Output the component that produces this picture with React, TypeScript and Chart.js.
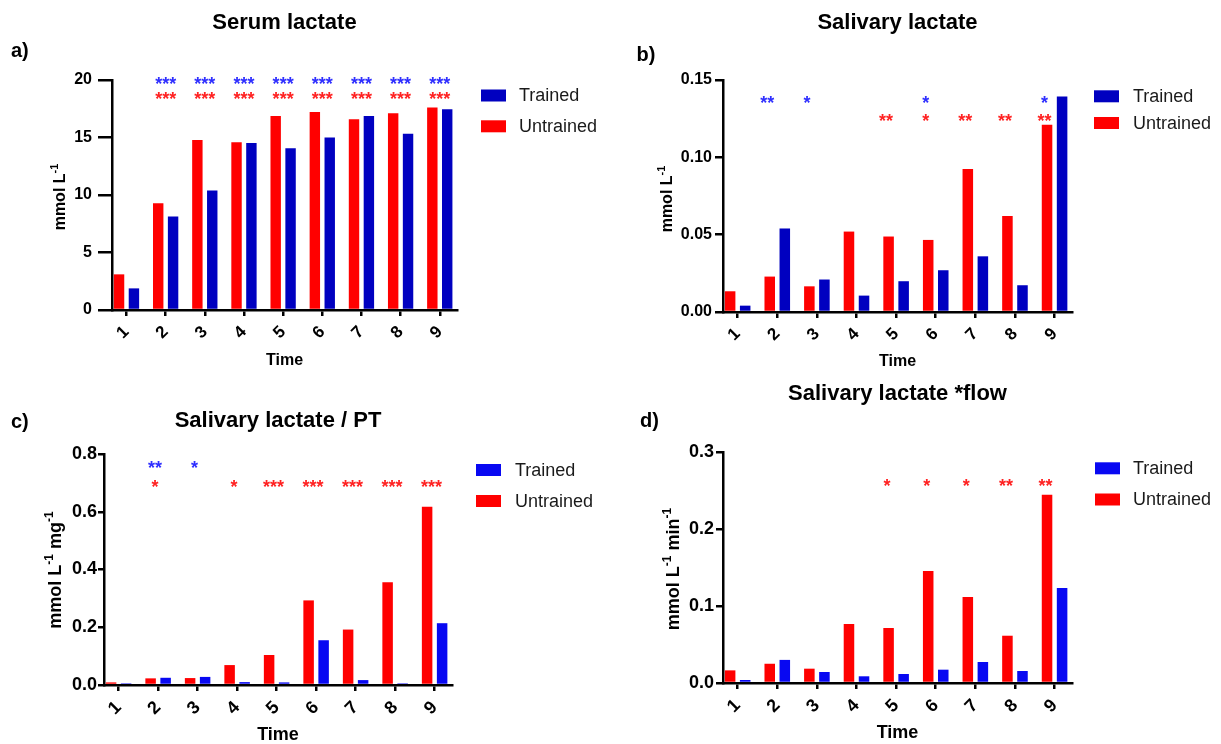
import React, { useEffect, useRef } from 'react';
import { Chart, registerables } from 'chart.js';

Chart.register(...registerables);

const FONT = '"Liberation Sans", Arial, Helvetica, sans-serif';

// ---------- data ----------
const timePoints = ['1', '2', '3', '4', '5', '6', '7', '8', '9'];
const seriesLabels = ['Untrained', 'Trained'];

const serumUntrained = [3.1, 9.28, 14.78, 14.58, 16.87, 17.22, 16.58, 17.1, 17.6];
const serumTrained = [1.88, 8.12, 10.4, 14.52, 14.06, 15.01, 16.87, 15.33, 17.45];
const serumSigUntrained = ['', '***', '***', '***', '***', '***', '***', '***', '***'];
const serumSigTrained = ['', '***', '***', '***', '***', '***', '***', '***', '***'];

const salivaUntrained = [0.0134, 0.0229, 0.0166, 0.052, 0.0488, 0.0466, 0.0924, 0.062, 0.121];
const salivaTrained = [0.0041, 0.054, 0.021, 0.0106, 0.0199, 0.027, 0.036, 0.0173, 0.1394];
const salivaSigUntrained = ['', '', '', '', '**', '*', '**', '**', '**'];
const salivaSigTrained = ['', '**', '*', '', '', '*', '', '', '*'];

const ptUntrained = [0.009, 0.023, 0.024, 0.069, 0.104, 0.293, 0.192, 0.356, 0.617];
const ptTrained = [0.006, 0.025, 0.028, 0.01, 0.009, 0.155, 0.017, 0.006, 0.214];
const ptSigUntrained = ['', '*', '', '*', '***', '***', '***', '***', '***'];
const ptSigTrained = ['', '**', '*', '', '', '', '', '', ''];

const flowUntrained = [0.0164, 0.025, 0.0186, 0.0766, 0.0714, 0.1455, 0.1117, 0.0614, 0.2445];
const flowTrained = [0.0039, 0.03, 0.0143, 0.0087, 0.0117, 0.0173, 0.0273, 0.0156, 0.1234];
const flowSigUntrained = ['', '', '', '', '*', '*', '*', '**', '**'];
const flowSigTrained = ['', '', '', '', '', '', '', '', ''];

type Seg = { t: string; sup?: boolean };

interface PanelDef {
  left: number; top: number; width: number; height: number;
  area: { l: number; t: number; r: number; b: number };
  title: string; titleX: number; titleY: number;
  label: string; labelX: number; labelY: number;
  yTitle: Seg[]; yTitleX: number; yTitleY: number;
  xTitleY: number;
  yMax: number; yStep: number; yDecimals: number;
  tickLen: number; tickPad: number; tickFont: number; xTickFont: number; xTickPad: number; axisFont: number;
  untrained: number[]; trained: number[];
  sigUntrained: string[]; sigTrained: string[];
  sigUntrainedLevel: number; sigTrainedLevel: number; sigDx: number;
  red: string; blue: string;
  legendX: number; legendY1: number; legendY2: number; legendTextX: number;
}

const RED = '#ff0000';
const STAR_RED = '#ff2222';
const STAR_BLUE = '#2f2fff';

const panels: PanelDef[] = [
  {
    left: 0, top: 0, width: 610, height: 372,
    area: { l: 112, t: 80, r: 457, b: 310 },
    title: 'Serum lactate', titleX: 284.5, titleY: 29,
    label: 'a)', labelX: 11, labelY: 57,
    yTitle: [{ t: 'mmol L' }, { t: '-1', sup: true }], yTitleX: 65, yTitleY: 197,
    xTitleY: 365,
    yMax: 20, yStep: 5, yDecimals: 0,
    tickLen: 14, tickPad: 6, tickFont: 16, xTickFont: 17, xTickPad: 6, axisFont: 16,
    untrained: serumUntrained, trained: serumTrained,
    sigUntrained: serumSigUntrained, sigTrained: serumSigTrained,
    sigUntrainedLevel: 18.7, sigTrainedLevel: 20.0, sigDx: 0,
    red: RED, blue: '#0000c0',
    legendX: 481, legendY1: 95.5, legendY2: 126.3, legendTextX: 519,
  },
  {
    left: 610, top: 0, width: 611, height: 372,
    area: { l: 113, t: 80, r: 462, b: 312 },
    title: 'Salivary lactate', titleX: 287.5, titleY: 29,
    label: 'b)', labelX: 26.5, labelY: 61,
    yTitle: [{ t: 'mmol L' }, { t: '-1', sup: true }], yTitleX: 61.5, yTitleY: 199,
    xTitleY: 366,
    yMax: 0.15, yStep: 0.05, yDecimals: 2,
    tickLen: 8, tickPad: 3, tickFont: 16, xTickFont: 17, xTickPad: 6, axisFont: 16,
    untrained: salivaUntrained, trained: salivaTrained,
    sigUntrained: salivaSigUntrained, sigTrained: salivaSigTrained,
    sigUntrainedLevel: 0.1265, sigTrainedLevel: 0.138, sigDx: -10,
    red: RED, blue: '#0000c0',
    legendX: 484, legendY1: 96.3, legendY2: 123, legendTextX: 523,
  },
  {
    left: 0, top: 372, width: 610, height: 372,
    area: { l: 104, t: 82, r: 452, b: 313 },
    title: 'Salivary lactate / PT', titleX: 278, titleY: 54.7,
    label: 'c)', labelX: 11, labelY: 56,
    yTitle: [{ t: 'mmol L' }, { t: '-1', sup: true }, { t: ' mg' }, { t: '-1', sup: true }], yTitleX: 61, yTitleY: 198,
    xTitleY: 368,
    yMax: 0.8, yStep: 0.2, yDecimals: 1,
    tickLen: 6, tickPad: 1, tickFont: 18, xTickFont: 18, xTickPad: 6, axisFont: 18,
    untrained: ptUntrained, trained: ptTrained,
    sigUntrained: ptSigUntrained, sigTrained: ptSigTrained,
    sigUntrainedLevel: 0.699, sigTrainedLevel: 0.765, sigDx: -3,
    red: RED, blue: '#0808f2',
    legendX: 476, legendY1: 98, legendY2: 129, legendTextX: 515,
  },
  {
    left: 610, top: 372, width: 611, height: 372,
    area: { l: 113, t: 80, r: 462, b: 311 },
    title: 'Salivary lactate *flow', titleX: 287.5, titleY: 28,
    label: 'd)', labelX: 30, labelY: 55,
    yTitle: [{ t: 'mmol L' }, { t: '-1', sup: true }, { t: ' min' }, { t: '-1', sup: true }], yTitleX: 69, yTitleY: 197,
    xTitleY: 366,
    yMax: 0.3, yStep: 0.1, yDecimals: 1,
    tickLen: 7, tickPad: 2, tickFont: 18, xTickFont: 18, xTickPad: 6, axisFont: 18,
    untrained: flowUntrained, trained: flowTrained,
    sigUntrained: flowSigUntrained, sigTrained: flowSigTrained,
    sigUntrainedLevel: 0.262, sigTrainedLevel: 0.285, sigDx: -9,
    red: RED, blue: '#0808f2',
    legendX: 485, legendY1: 96.3, legendY2: 127.5, legendTextX: 523,
  },
];

const YW = 60;
const XH = 48;

function makeDecor(p: PanelDef) {
  return {
    id: 'decor',
    afterDraw(chart: any) {
      const ctx: CanvasRenderingContext2D = chart.ctx;
      const xs = chart.scales.x;
      const ys = chart.scales.y;
      const ca = chart.chartArea;
      ctx.save();
      ctx.fillStyle = '#000';
      ctx.textBaseline = 'alphabetic';

      // title
      ctx.font = `bold 22px ${FONT}`;
      ctx.textAlign = 'center';
      ctx.fillText(p.title, p.titleX, p.titleY);

      // panel letter
      ctx.font = `bold 20px ${FONT}`;
      ctx.textAlign = 'left';
      ctx.fillText(p.label, p.labelX, p.labelY);

      // x title
      ctx.font = `bold ${p.axisFont}px ${FONT}`;
      ctx.textAlign = 'center';
      ctx.fillText('Time', (ca.left + ca.right) / 2, p.xTitleY);

      // y title with superscripts
      const base = p.axisFont;
      const supSize = Math.round(base * 0.68);
      let total = 0;
      const widths = p.yTitle.map((s) => {
        ctx.font = `bold ${s.sup ? supSize : base}px ${FONT}`;
        const w = ctx.measureText(s.t).width;
        total += w;
        return w;
      });
      ctx.save();
      ctx.translate(p.yTitleX, p.yTitleY);
      ctx.rotate(-Math.PI / 2);
      ctx.textAlign = 'left';
      let cx = -total / 2;
      p.yTitle.forEach((s, i) => {
        ctx.font = `bold ${s.sup ? supSize : base}px ${FONT}`;
        ctx.fillText(s.t, cx, s.sup ? -base * 0.42 : 0);
        cx += widths[i];
      });
      ctx.restore();

      // legend (Trained first)
      const ds = chart.data.datasets;
      const rows = [
        { d: ds[1], y: p.legendY1 },
        { d: ds[0], y: p.legendY2 },
      ];
      ctx.font = `18px ${FONT}`;
      ctx.textAlign = 'left';
      ctx.textBaseline = 'middle';
      rows.forEach((r) => {
        ctx.fillStyle = r.d.backgroundColor;
        ctx.fillRect(p.legendX, r.y - 6, 25, 12);
        ctx.fillStyle = '#1a1a1a';
        ctx.fillText(r.d.label, p.legendTextX, r.y + 1);
      });

      // significance stars
      const starSize = 18;
      ctx.font = `bold ${starSize}px ${FONT}`;
      ctx.textAlign = 'center';
      ctx.textBaseline = 'alphabetic';
      const drawRow = (sig: string[], level: number, color: string) => {
        ctx.fillStyle = color;
        const y = ys.getPixelForValue(level) + starSize * 0.57;
        sig.forEach((s, i) => {
          if (!s) return;
          const x = xs.getPixelForValue(Number(timePoints[i])) + p.sigDx;
          ctx.fillText(s, x, y);
        });
      };
      drawRow(p.sigTrained, p.sigTrainedLevel, STAR_BLUE);
      drawRow(p.sigUntrained, p.sigUntrainedLevel, STAR_RED);

      ctx.restore();
    },
  };
}

function Panel({ p }: { p: PanelDef }) {
  const ref = useRef<HTMLCanvasElement | null>(null);
  useEffect(() => {
    if (!ref.current) return;
    const axisColor = '#000';
    const chart = new Chart(ref.current, {
      type: 'bar',
      data: {
        datasets: [
          {
            label: seriesLabels[0],
            data: p.untrained.map((v, i) => ({ x: Number(timePoints[i]), y: v })),
            backgroundColor: p.red,
            borderWidth: 0,
            categoryPercentage: 0.76,
            barPercentage: 0.7,
          },
          {
            label: seriesLabels[1],
            data: p.trained.map((v, i) => ({ x: Number(timePoints[i]), y: v })),
            backgroundColor: p.blue,
            borderWidth: 0,
            categoryPercentage: 0.76,
            barPercentage: 0.7,
          },
        ],
      } as any,
      options: {
        animation: false,
        responsive: false,
        devicePixelRatio: 1,
        layout: {
          padding: {
            left: p.area.l - YW,
            top: p.area.t,
            right: p.width - p.area.r,
            bottom: p.height - p.area.b - XH,
          },
        },
        plugins: {
          legend: { display: false },
          title: { display: false },
          tooltip: { enabled: false },
        },
        scales: {
          x: {
            type: 'linear',
            min: 0.63,
            max: 9.44,
            offset: false,
            z: 1,
            afterFit: (s: any) => { s.height = XH; },
            border: { display: true, color: axisColor, width: 2.5 },
            grid: {
              display: true, drawOnChartArea: false, drawTicks: true,
              tickLength: 6, color: axisColor, lineWidth: 2.5, offset: false,
            },
            ticks: {
              stepSize: 1,
              includeBounds: false,
              autoSkip: false,
              minRotation: 45,
              maxRotation: 45,
              padding: p.xTickPad,
              color: '#000',
              font: { family: FONT, size: p.xTickFont, weight: 'bold' },
              callback: (v: any) => {
                const idx = timePoints.indexOf(String(v));
                return idx >= 0 ? timePoints[idx] : '';
              },
            },
          },
          y: {
            type: 'linear',
            min: 0,
            max: p.yMax,
            z: 1,
            afterFit: (s: any) => { s.width = YW; },
            border: { display: true, color: axisColor, width: 2.5 },
            grid: {
              display: true, drawOnChartArea: false, drawTicks: true,
              tickLength: p.tickLen, color: axisColor, lineWidth: 2.5,
            },
            ticks: {
              stepSize: p.yStep,
              padding: p.tickPad,
              color: '#000',
              font: { family: FONT, size: p.tickFont, weight: 'bold' },
              callback: (v: any) => Number(v).toFixed(p.yDecimals),
            },
          },
        },
      } as any,
      plugins: [makeDecor(p)],
    });
    return () => chart.destroy();
  }, [p]);
  return (
    <canvas
      ref={ref}
      width={p.width}
      height={p.height}
      style={{ position: 'absolute', left: p.left, top: p.top, width: p.width, height: p.height }}
    />
  );
}

export default function App() {
  return (
    <div style={{ position: 'absolute', left: 0, top: 0, width: 1221, height: 744, background: '#fff', overflow: 'hidden' }}>
      {panels.map((p, i) => (
        <Panel key={i} p={p} />
      ))}
    </div>
  );
}
